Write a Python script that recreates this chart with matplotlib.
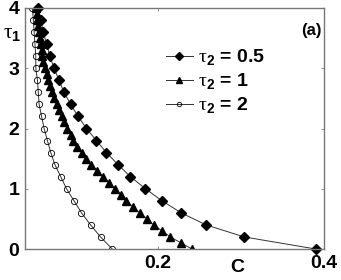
import matplotlib
matplotlib.use("Agg")
import matplotlib.pyplot as plt

plt.rcParams['font.family'] = ['Liberation Sans', 'DejaVu Sans']
plt.rcParams['mathtext.fontset'] = 'custom'
plt.rcParams['mathtext.rm'] = 'Liberation Serif'
plt.rcParams['mathtext.bf'] = 'Liberation Sans:bold'

# tau1 values (y) and C values (x)
tau_coarse = [0.0, 0.2, 0.4, 0.6, 0.8, 1.0, 1.2, 1.4, 1.6, 1.8, 2.0,
              2.2, 2.4, 2.6, 2.8, 3.0, 3.2, 3.4, 3.6, 3.8, 4.0]
c_tau2_05 = [0.390, 0.304, 0.258, 0.228, 0.205, 0.185, 0.167, 0.152, 0.138, 0.126, 0.114,
             0.104, 0.095, 0.087, 0.081, 0.075, 0.070, 0.066, 0.062, 0.059, 0.056]
c_tau2_2 = [0.145, 0.131, 0.119, 0.108, 0.099, 0.090, 0.083, 0.076, 0.071, 0.067, 0.063,
            0.060, 0.057, 0.056, 0.055, 0.053, 0.053, 0.052, 0.051, 0.050, 0.049]

tau_fine = [0.0, 0.1, 0.2, 0.3, 0.4, 0.5, 0.6, 0.7, 0.8, 0.9, 1.0,
            1.1, 1.2, 1.3, 1.4, 1.5, 1.6, 1.7, 1.8, 1.9, 2.0,
            2.1, 2.2, 2.3, 2.4, 2.5, 2.6, 2.7, 2.8, 2.9, 3.0,
            3.1, 3.2, 3.3, 3.4, 3.5, 3.6, 3.7, 3.8, 3.9, 4.0]
c_tau2_1 = [0.241, 0.228, 0.215, 0.205, 0.195, 0.187, 0.178, 0.170, 0.162, 0.155, 0.148,
            0.141, 0.134, 0.127, 0.120, 0.114, 0.109, 0.103, 0.098, 0.095, 0.091,
            0.087, 0.084, 0.081, 0.078, 0.075, 0.073, 0.070, 0.068, 0.066, 0.064,
            0.062, 0.061, 0.060, 0.059, 0.058, 0.057, 0.056, 0.055, 0.054, 0.053]

labels = [r'$\mathrm{\tau}_\mathbf{2}$ = 0.5', r'$\mathrm{\tau}_\mathbf{2}$ = 1',
          r'$\mathrm{\tau}_\mathbf{2}$ = 2']
x_ticks = [0.2, 0.4]
y_ticks = [0, 1, 2, 3, 4]

fig = plt.figure(figsize=(3.41, 2.80), dpi=100)
ax = fig.add_axes([25/341, 1-249/280, (324-25)/341, (249-8)/280])

lc = '#333333'
ax.plot(c_tau2_05, tau_coarse, '-', color=lc, lw=0.7, marker='D', ms=5.5,
        mfc='black', mec='black', label=labels[0], clip_on=False)
ax.plot(c_tau2_1, tau_fine, '-', color=lc, lw=0.7, marker='^', ms=5.5,
        mfc='black', mec='black', label=labels[1], clip_on=True)
ax.plot(c_tau2_2, tau_coarse, '-', color=lc, lw=0.7, marker='o', ms=4.5,
        mfc='none', mec='black', mew=0.6, label=labels[2], clip_on=True)

ax.set_xlim(0.04, 0.4)
ax.set_ylim(0, 4)
ax.set_xticks(x_ticks)
ax.set_xticklabels(['0.2', '0.4'])
ax.set_yticks(y_ticks)
ax.set_yticklabels(['0', '1', '2', '3', '4'])
ax.tick_params(direction='in', length=2.5, width=0.6, colors='#777777',
               top=True, right=True, labelsize=14, pad=4)
for lbl in ax.get_xticklabels() + ax.get_yticklabels():
    lbl.set_fontweight('bold')
    lbl.set_color('black')
for s in ax.spines.values():
    s.set_color('#777777')
    s.set_linewidth(1.0)

fig.text(237/341, 1-267/280, 'C', fontsize=14, fontweight='bold', ha='center', va='center')
fig.text(12/341, 1-34/280, r'$\mathrm{\tau}_\mathbf{1}$', fontsize=15, ha='center', va='center')
fig.text(311/341, 1-31/280, '(a)', fontsize=12, fontweight='bold', ha='center', va='center')

leg = ax.legend(loc='upper left', bbox_to_anchor=(148/341, 1-30/280), bbox_transform=fig.transFigure,
                frameon=False, handlelength=1.4, handletextpad=0.25, labelspacing=0.2,
                markerscale=0.7, prop={'weight': 'bold', 'size': 14})

fig.savefig('out.png', dpi=100)
